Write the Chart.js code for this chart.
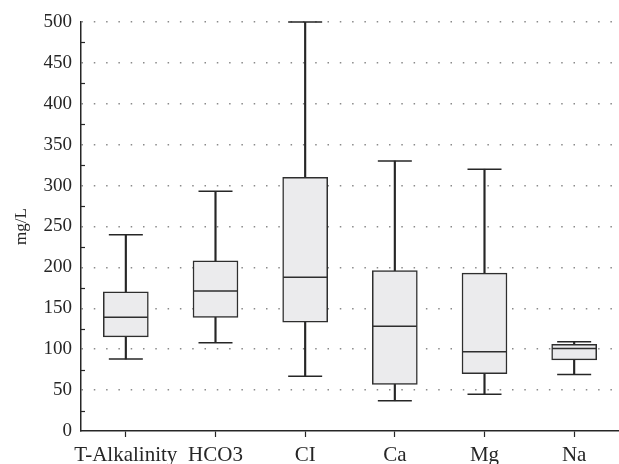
<!DOCTYPE html>
<html>
<head>
<meta charset="utf-8">
<script src="https://cdn.jsdelivr.net/npm/chart.js@4/dist/chart.umd.min.js"></script>
<style>
html,body{margin:0;padding:0;background:#fff;}
#wrap{width:619px;height:464px;position:relative;}
</style>
</head>
<body>
<div id="wrap"><canvas id="c" width="619" height="464"></canvas></div>
<script>
const categories = ["T-Alkalinity", "HCO3", "CI", "Ca", "Mg", "Na"];
const minValues    = [88, 108, 67, 37, 45, 69];
const q1Values     = [115, 139, 133, 57, 70, 87];
const medianValues = [139, 171, 188, 128, 97, 101];
const q3Values     = [170, 208, 310, 196, 193, 106];
const maxValues    = [240, 293, 500, 330, 320, 109];
const yTicksMajor  = [0, 50, 100, 150, 200, 250, 300, 350, 400, 450, 500];

const FONT = "'Liberation Serif', 'DejaVu Serif', serif";
const INK = '#262626';

const minorTicks = {
  id: 'minorTicks',
  afterDraw(chart) {
    const y = chart.scales.y, ctx = chart.ctx;
    const x0 = chart.chartArea.left;
    ctx.save();
    ctx.strokeStyle = INK;
    ctx.lineWidth = 1.2;
    for (let v = 25; v < 500; v += 50) {
      const py = Math.round(y.getPixelForValue(v)) + 0.5;
      ctx.beginPath();
      ctx.moveTo(x0, py);
      ctx.lineTo(x0 + 4, py);
      ctx.stroke();
    }
    ctx.restore();
  }
};

new Chart(document.getElementById('c'), {
  data: {
    labels: categories,
    datasets: [
      {
        type: 'bar',
        data: categories.map((_, i) => [minValues[i], maxValues[i]]),
        backgroundColor: INK,
        barThickness: 1.5,
        grouped: false,
        order: 3
      },
      {
        type: 'bar',
        data: categories.map((_, i) => [q1Values[i], q3Values[i]]),
        backgroundColor: '#ebebed',
        borderColor: '#2e2e2e',
        borderWidth: 1.5,
        borderSkipped: false,
        barThickness: 45,
        grouped: false,
        order: 2
      },
      {
        type: 'line',
        data: medianValues,
        showLine: false,
        pointStyle: 'line',
        pointRadius: 22,
        pointHoverRadius: 22,
        pointBorderWidth: 1.5,
        pointBorderColor: '#2e2e2e',
        clip: false,
        order: 1
      },
      {
        type: 'line',
        data: minValues,
        showLine: false,
        pointStyle: 'line',
        pointRadius: 17,
        pointHoverRadius: 17,
        pointBorderWidth: 1.5,
        pointBorderColor: INK,
        clip: false,
        order: 1
      },
      {
        type: 'line',
        data: maxValues,
        showLine: false,
        pointStyle: 'line',
        pointRadius: 17,
        pointHoverRadius: 17,
        pointBorderWidth: 1.5,
        pointBorderColor: INK,
        clip: false,
        order: 1
      }
    ]
  },
  options: {
    responsive: false,
    animation: false,
    events: [],
    layout: { autoPadding: false, padding: { top: 22, right: 0, bottom: 0, left: 0 } },
    plugins: { legend: { display: false }, tooltip: { enabled: false } },
    scales: {
      x: {
        type: 'category',
        offset: true,
        grid: {
          offset: false,
          drawOnChartArea: false,
          drawTicks: true,
          tickLength: 6,
          tickColor: INK,
          tickWidth: 1.2
        },
        border: { display: true, color: INK, width: 1.5 },
        ticks: { color: INK, font: { family: FONT, size: 21 }, padding: 6, maxRotation: 0, minRotation: 0, autoSkip: false },
        afterFit(s) { s.height = 33; s.paddingLeft = 0; s.paddingRight = 0; }
      },
      y: {
        min: 0,
        max: 500,
        afterBuildTicks(s) { s.ticks = yTicksMajor.map(v => ({ value: v })); },
        grid: {
          drawTicks: false,
          color: ctx => (ctx.tick && ctx.tick.value > 0) ? '#8a8a8a' : 'rgba(0,0,0,0)',
          lineWidth: 1.5
        },
        border: { display: true, color: INK, width: 1.5, dash: [1.5, 10.8] },
        ticks: { color: INK, font: { family: FONT, size: 19 }, padding: 9 },
        title: { display: true, text: 'mg/L', color: INK, font: { family: FONT, size: 17 }, padding: { top: 11, bottom: 0 } },
        afterFit(s) { s.width = 81; s.paddingTop = 0; s.paddingBottom = 0; }
      }
    }
  },
  plugins: [minorTicks]
});
</script>
</body>
</html>
